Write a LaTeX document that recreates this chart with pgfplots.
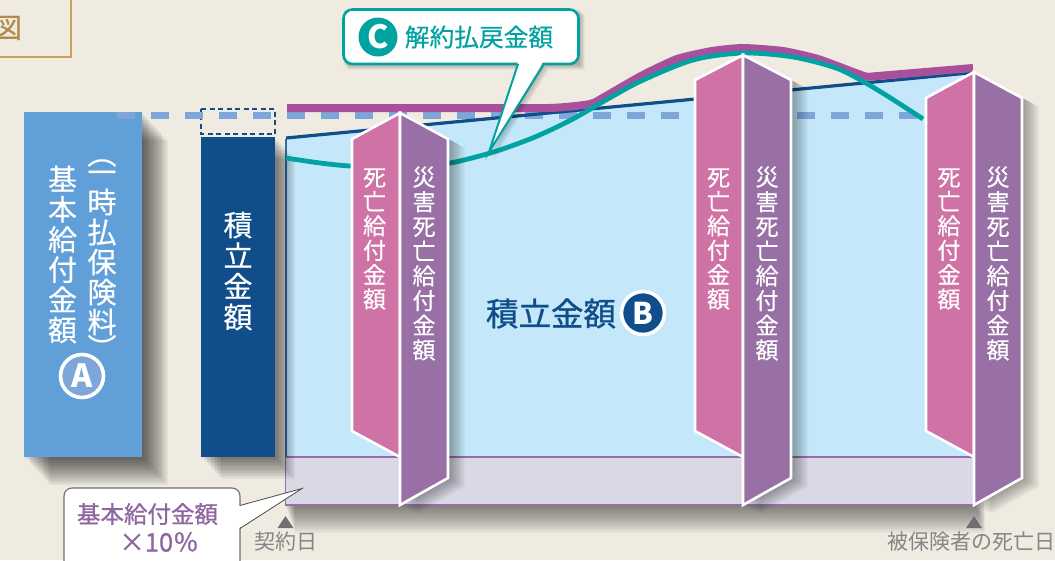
\documentclass[border=0pt]{standalone}
\usepackage{fontspec}
\usepackage{pgfplots}
\pgfplotsset{compat=1.18}
\newfontfamily\jp{Noto Sans CJK JP}
\newfontfamily\jpm[FakeBold=0.9]{Noto Sans CJK JP}
\newfontfamily\jpl[FakeBold=0.4]{Noto Sans CJK JP}
\setmainfont{Noto Sans CJK JP}
\definecolor{paper}{RGB}{239,235,225}
\definecolor{ochre}{RGB}{200,160,96}
\definecolor{ochretxt}{RGB}{176,138,74}
\definecolor{barlight}{RGB}{97,159,216}
\definecolor{barnavy}{RGB}{15,77,139}
\definecolor{dashblue}{RGB}{127,166,217}
\definecolor{sky}{RGB}{196,232,249}
\definecolor{lilac}{RGB}{218,216,229}
\definecolor{lilacline}{RGB}{150,110,170}
\definecolor{magentaline}{RGB}{168,80,156}
\definecolor{tealline}{RGB}{0,163,161}
\definecolor{pinkface}{RGB}{207,114,165}
\definecolor{purpleface}{RGB}{152,112,165}
\definecolor{notegray}{RGB}{110,111,113}
\definecolor{notepurple}{RGB}{142,103,160}
% Soft drop shadow: translucent copies of an outline slid along the light direction
\newcommand{\softshadow}[4]{%
  \pgfplotsinvokeforeach{1,...,14}{%
    \addplot[fill=black,fill opacity=#3,draw=none,
      xshift=##1/14*#1 pt,yshift=-##1/14*#2 pt,forget plot] coordinates {#4} --cycle;}%
}
% One prism: pink face, purple face and white edges, with its shadow
\newcommand{\prism}[5]{% centre x, left x, right x, apex y, shoulder y
  \softshadow{17}{9}{0.026}{(#2,#5)(#1,#4)(#3,#5)(#3,478)(#1,505)(#1,457)(#2,431)}
  \addplot[fill=pinkface,draw=white,line width=2.6pt,line join=miter,forget plot]
    coordinates {(#1,#4)(#2,#5)(#2,431)(#1,457)} --cycle;
  \addplot[fill=purpleface,draw=white,line width=2.6pt,line join=miter,forget plot]
    coordinates {(#1,#4)(#3,#5)(#3,478)(#1,505)} --cycle;
}
\tikzset{
  vcap/.style={text=white,align=center,inner sep=0pt},
  badge/.style={circle,inner sep=0pt,text=white,minimum size=#1},
}
\begin{document}
\begin{tikzpicture}
\path[use as bounding box,clip] (0,0) rectangle (1055pt,560pt);
\fill[paper] (0,0) rectangle (1055pt,560pt);
\begin{axis}[at={(0,0)},anchor=south west,scale only axis,width=1055pt,height=560pt,
  xmin=0,xmax=1055,ymin=0,ymax=560,y dir=reverse,axis lines=none,clip=false,
  every axis plot/.append style={forget plot}]

% Corner title box
\addplot[draw=ochre,line width=1.3pt] coordinates {(-20,-20)(71,-20)(71,57)(-20,57)} --cycle;
\node[text=ochretxt,font=\jpl\fontsize{28}{28}\selectfont,inner sep=0pt] at (axis cs:8,28) {図};

% Reserve area and base strip with their shadow
\softshadow{10}{28}{0.04}{(285,457)(975,457)(975,505)(285,505)}
\addplot[fill=sky,draw=none] coordinates {(286,138)(973,72.6)(975,457)(286,457)} --cycle;
\addplot[fill=lilac,draw=lilacline,line width=1.3pt] coordinates {(285.5,457)(975,457)(975,505)(285.5,505)} --cycle;
\addplot[draw=barnavy!80!sky,line width=1.2pt] coordinates {(286,139)(286,457)};

% Lump-sum bar and reserve bar
\softshadow{26}{28}{0.055}{(24,112)(142,112)(142,457)(24,457)}
\addplot[fill=barlight,draw=none] coordinates {(24,112)(142,112)(142,457)(24,457)} --cycle;
\softshadow{20}{22}{0.045}{(201,137)(275,137)(275,457)(201,457)}
\addplot[fill=barnavy,draw=none] coordinates {(201,137)(275,137)(275,457)(201,457)} --cycle;
\addplot[draw=barnavy,line width=1.3pt,dash pattern=on 5pt off 3.5pt] coordinates {(201,109)(275,109)(275,134)(201,134)} --cycle;

% Level of the single premium
\addplot[draw=dashblue,line width=7pt,dash pattern=on 18pt off 16pt] coordinates {(117,115.5)(926,115.5)};

% Reserve line
\addplot[draw=barnavy,line width=3.2pt] coordinates {(286,138)(973,72.6)};
% Death benefit envelope
\addplot[draw=magentaline,line width=8pt,smooth,tension=0.35] coordinates {
  (287,108)(420,108)(548,108)(590,104)(606,96)(641,76)(677,59)(712,51)(743,48)(783,51)(818,59)(853,72)(867,77)};
\addplot[draw=magentaline,line width=8pt] coordinates {(866,77)(973,68)};
% Surrender value
\addplot[draw=tealline,line width=4.8pt,smooth,tension=0.5] coordinates {
  (286,158)(320,163)(350,166)(400,168)(450,163)(487,154)(500,150)(535,137)(571,120)(606,100)
  (641,81)(693,60)(743,53)(793,57)(836,68)(864,82)(889,97)(923,119)};

% Prisms at three dates
\prism{400}{352}{448}{113}{139}
\prism{743}{695}{791}{55}{80}
\prism{974}{926}{1022}{72}{98}

% Bottom markers
\addplot[fill=notegray,draw=none] coordinates {(285.5,516)(277.5,528)(293.5,528)} --cycle;
\addplot[fill=notegray,draw=none] coordinates {(974,516)(966,528)(982,528)} --cycle;
\node[text=notegray!85!white,inner sep=0pt,font=\jp\fontsize{21}{21}\selectfont] at (axis cs:285.5,542) {契約日};
\node[text=notegray!85!white,inner sep=0pt,anchor=east,font=\jp\fontsize{21}{21}\selectfont] at (axis cs:1056,542) {被保険者の死亡日};

% Callout for the surrender value
\softshadow{6}{6}{0.02}{(343,9)(579,9)(579,64)(543,64)(488,154)(517,64)(343,64)}
\addplot[fill=white,draw=tealline,line width=2.6pt,rounded corners=9pt] coordinates {(343.5,9.5)(578.5,9.5)(578.5,64)(343.5,64)} --cycle;
\addplot[fill=white,draw=none] coordinates {(518,62)(543,62)(489,152)} --cycle;
\addplot[draw=tealline,line width=2pt] coordinates {(518,64)(489,152)(544,64)};
\node[badge=39pt,fill=tealline,font=\jp\bfseries\fontsize{32}{32}\selectfont] at (axis cs:378,37) {C};
\node[text=tealline,font=\jpl\fontsize{24.7}{24.7}\selectfont,inner sep=0pt] at (axis cs:479,37) {解約払戻金額};

% Callout for the base strip
\addplot[fill=white,draw=notegray,line width=1.1pt,rounded corners=8pt] coordinates {(64,488)(240,488)(240,580)(64,580)} --cycle;
\addplot[fill=white,draw=none] coordinates {(239,506)(302,488.5)(239,528)} --cycle;
\addplot[draw=black!70,line width=0.8pt] coordinates {(240,505.5)(302,488.5)(240,528.5)};
\node[text=notepurple,font=\jpm\fontsize{23.5}{23.5}\selectfont,inner sep=0pt] at (axis cs:147.5,514) {基本給付金額};
\node[text=notepurple,font=\jpm\fontsize{25.5}{25.5}\selectfont,inner sep=0pt] at (axis cs:159,542) {×10％};

% Vertical captions
\node[vcap,font=\jpl\fontsize{29}{30.2}\selectfont] at (axis cs:62.5,254.5) {基\\本\\給\\付\\金\\額};
\node[vcap,font=\jpl\fontsize{29}{30}\selectfont] at (axis cs:102,253) {一\\時\\払\\保\\険\\料};
\node[vcap,font=\jpl\fontsize{29}{30}\selectfont] at (axis cs:102,163) {︵};
\node[vcap,font=\jpl\fontsize{29}{30}\selectfont] at (axis cs:102,347) {︶};
\node[badge=43pt,fill=dashblue,draw=white,line width=3.6pt,font=\jp\bfseries\fontsize{32}{32}\selectfont] at (axis cs:82,376) {A};

\node[vcap,font=\jpl\fontsize{29}{30.7}\selectfont] at (axis cs:238,271) {積\\立\\金\\額};

\node[text=barnavy,inner sep=0pt,font=\jpm\fontsize{32.5}{33}\selectfont] at (axis cs:551,313.5) {積立金額};
\node[badge=43pt,fill=barnavy,draw=white,line width=3.6pt,font=\jp\bfseries\fontsize{30}{30}\selectfont] at (axis cs:643,313) {B};

% Prism captions
\node[vcap,font=\jpl\fontsize{23}{24.4}\selectfont] at (axis cs:374.5,239) {死\\亡\\給\\付\\金\\額};
\node[vcap,font=\jpl\fontsize{23}{24.7}\selectfont] at (axis cs:424,263.5) {災\\害\\死\\亡\\給\\付\\金\\額};
\node[vcap,font=\jpl\fontsize{23}{24.4}\selectfont] at (axis cs:718.5,239) {死\\亡\\給\\付\\金\\額};
\node[vcap,font=\jpl\fontsize{23}{24.7}\selectfont] at (axis cs:767,263.5) {災\\害\\死\\亡\\給\\付\\金\\額};
\node[vcap,font=\jpl\fontsize{23}{24.4}\selectfont] at (axis cs:949,239) {死\\亡\\給\\付\\金\\額};
\node[vcap,font=\jpl\fontsize{23}{24.7}\selectfont] at (axis cs:998,263.5) {災\\害\\死\\亡\\給\\付\\金\\額};
\end{axis}
\end{tikzpicture}
\end{document}
